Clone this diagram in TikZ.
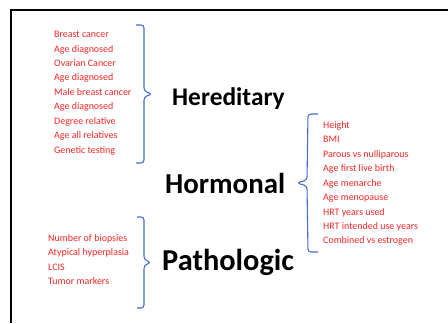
\documentclass[tikz,border=0pt]{standalone}
\usepackage{fontspec}
\setmainfont{Carlito}
\definecolor{factorred}{RGB}{242,38,38}
\definecolor{bracketblue}{RGB}{68,110,200}
\newcommand{\listfont}{\fontsize{10}{14.5}\selectfont}
\newcommand{\groupfont}[1]{\fontsize{#1}{#1}\selectfont\bfseries}
\tikzset{
    factors/.style={anchor=west, align=left, inner sep=0pt, text=factorred, font=\listfont},
    group/.style={anchor=base west, inner sep=0pt, text=black},
    bracket/.style={draw=bracketblue, line width=1.1pt, rounded corners=3bp}
}
\begin{document}
\begin{tikzpicture}[x=1bp, y=1bp]
    \useasboundingbox (0,0) rectangle (448,-323);
    % frame, cut by the picture
    \draw[line width=2bp] (448,-10) -- (11,-10) -- (11,-323);

    % hereditary
    \node[factors] (hlist) at (54,-93) {Breast cancer\\ Age diagnosed\\ Ovarian Cancer\\ Age diagnosed\\ Male breast cancer\\ Age diagnosed\\ Degree relative\\ Age all relatives\\ Genetic testing};
    \coordinate (htop) at (136,-25);
    \coordinate (htip) at (152,-94);
    \coordinate (hbot) at (136,-163);
    \node[group, font=\groupfont{25.5}] (hered) at (172,-105) {Hereditary};
    \draw[bracket] (htop) -- ++(8,0) -- ([xshift=-8bp, yshift=3bp]htip) -- (htip)
        -- ([xshift=-8bp, yshift=-3bp]htip) -- ([xshift=8bp]hbot) -- (hbot);

    % hormonal
    \node[factors] (olist) at (323,-183.5) {Height\\ BMI\\ Parous vs nulliparous\\ Age first live birth\\ Age menarche\\ Age menopause\\ HRT years used\\ HRT intended use years\\ Combined vs estrogen};
    \coordinate (otop) at (318,-114);
    \coordinate (otip) at (297,-183);
    \coordinate (obot) at (318,-252);
    \node[group, font=\groupfont{29}] (hormo) at (165,-193) {Hormonal};
    \draw[bracket] (otop) -- ++(-10,0) -- ([xshift=10bp, yshift=3bp]otip) -- (otip)
        -- ([xshift=10bp, yshift=-3bp]otip) -- ([xshift=-10bp]obot) -- (obot);

    % pathologic
    \node[factors] (plist) at (48,-259.5) {Number of biopsies\\ Atypical hyperplasia\\ LCIS\\ Tumor markers};
    \coordinate (ptop) at (137,-217);
    \coordinate (ptip) at (151,-262.5);
    \coordinate (pbot) at (137,-308);
    \node[group, font=\groupfont{30.5}] (patho) at (162,-270) {Pathologic};
    \draw[bracket] (ptop) -- ++(7,0) -- ([xshift=-7bp, yshift=3bp]ptip) -- (ptip)
        -- ([xshift=-7bp, yshift=-3bp]ptip) -- ([xshift=7bp]pbot) -- (pbot);
\end{tikzpicture}
\end{document}
